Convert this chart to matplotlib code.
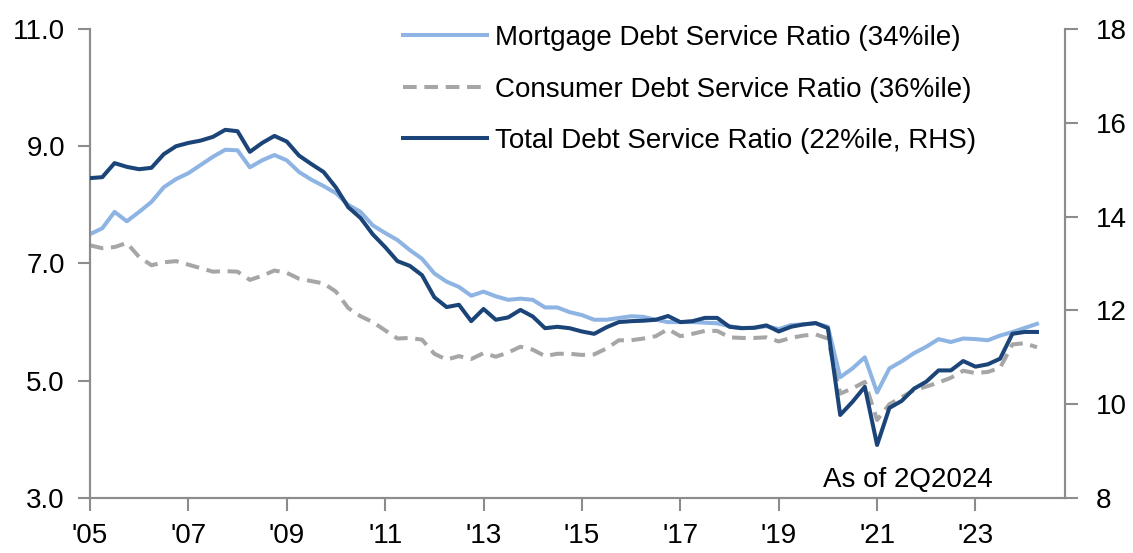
import matplotlib
matplotlib.use("Agg")
import matplotlib.pyplot as plt
import numpy as np

plt.rcParams['font.family'] = ['Liberation Sans', 'DejaVu Sans']

start_year = 2005
quarters = 78  # 2005Q1 .. 2024Q2

mortgage = [7.50, 7.60, 7.88, 7.72, 7.88, 8.05, 8.30, 8.44, 8.54, 8.68,
            8.82, 8.94, 8.93, 8.64, 8.76, 8.85, 8.76, 8.56, 8.43, 8.32,
            8.20, 8.00, 7.88, 7.65, 7.52, 7.40, 7.23, 7.08, 6.83, 6.69,
            6.60, 6.45, 6.52, 6.44, 6.38, 6.40, 6.38, 6.25, 6.25, 6.17,
            6.12, 6.04, 6.04, 6.07, 6.10, 6.09, 6.04, 6.00, 6.00, 6.00,
            5.99, 5.98, 5.93, 5.90, 5.90, 5.93, 5.88, 5.95, 5.96, 5.98,
            5.92, 5.06, 5.21, 5.40, 4.80, 5.21, 5.33, 5.47, 5.58, 5.71,
            5.66, 5.72, 5.71, 5.69, 5.77, 5.83, 5.90, 5.97]

consumer = [7.31, 7.26, 7.28, 7.35, 7.11, 6.97, 7.02, 7.04, 6.98, 6.92,
            6.86, 6.87, 6.86, 6.72, 6.79, 6.88, 6.84, 6.74, 6.70, 6.66,
            6.52, 6.24, 6.10, 6.00, 5.86, 5.72, 5.73, 5.70, 5.46, 5.36,
            5.42, 5.37, 5.47, 5.41, 5.48, 5.58, 5.53, 5.42, 5.46, 5.46,
            5.44, 5.45, 5.55, 5.69, 5.69, 5.72, 5.76, 5.88, 5.76, 5.80,
            5.85, 5.85, 5.74, 5.73, 5.73, 5.74, 5.67, 5.73, 5.77, 5.79,
            5.72, 4.78, 4.87, 4.98, 4.33, 4.60, 4.72, 4.84, 4.90, 4.97,
            5.05, 5.17, 5.13, 5.15, 5.22, 5.62, 5.64, 5.57]

total = [14.82, 14.84, 15.14, 15.06, 15.01, 15.04, 15.33, 15.50, 15.57, 15.62,
         15.70, 15.85, 15.82, 15.38, 15.57, 15.72, 15.60, 15.30, 15.12, 14.95,
         14.62, 14.20, 13.97, 13.62, 13.35, 13.05, 12.95, 12.75, 12.28, 12.07,
         12.12, 11.77, 12.03, 11.80, 11.85, 12.01, 11.87, 11.62, 11.65, 11.62,
         11.55, 11.50, 11.64, 11.75, 11.77, 11.78, 11.80, 11.88, 11.75, 11.77,
         11.84, 11.84, 11.65, 11.62, 11.63, 11.68, 11.55, 11.65, 11.70, 11.73,
         11.62, 9.77, 10.05, 10.37, 9.13, 9.92, 10.07, 10.33, 10.48, 10.72,
         10.72, 10.92, 10.80, 10.85, 10.97, 11.50, 11.54, 11.54]

tick_years = [2005, 2007, 2009, 2011, 2013, 2015, 2017, 2019, 2021, 2023]
tick_labels = ["'05", "'07", "'09", "'11", "'13", "'15", "'17", "'19", "'21", "'23"]

labels = ["Mortgage Debt Service Ratio (34%ile)",
          "Consumer Debt Service Ratio (36%ile)",
          "Total Debt Service Ratio (22%ile, RHS)"]

x = start_year + np.arange(quarters) / 4.0

c_light = '#8DB4E2'
c_gray = '#A6A6A6'
c_dark = '#1B4478'
spine_c = '#8C8C8C'

fig = plt.figure(figsize=(11.33, 5.53), dpi=100)
ax = fig.add_axes([0.0794, 0.0995, 0.8606, 0.8481])
ax2 = ax.twinx()

l1, = ax.plot(x, mortgage, color=c_light, lw=2.9, label=labels[0], zorder=3)
l2, = ax.plot(x, consumer, color=c_gray, lw=2.9, ls=(0, (3.4, 1.9)), label=labels[1], zorder=2)
l3, = ax2.plot(x, total, color=c_dark, lw=2.9, label=labels[2], zorder=4)

ax.set_xlim(2005.0, 2024.82)
ax.set_ylim(3.0, 11.0)
ax2.set_ylim(8, 18)
ax.set_yticks([3, 5, 7, 9, 11])
ax.set_yticklabels(['3.0', '5.0', '7.0', '9.0', '11.0'])
ax2.set_yticks([8, 10, 12, 14, 16, 18])
ax.set_xticks(tick_years)
ax.set_xticklabels(tick_labels)

for a in (ax, ax2):
    a.spines['top'].set_visible(False)
    for s in ('left', 'right', 'bottom'):
        a.spines[s].set_color(spine_c)
        a.spines[s].set_linewidth(1.5)
    a.tick_params(colors=spine_c, labelcolor='black', labelsize=20,
                  length=9, width=1.5, direction='out')
ax.tick_params(axis='y', pad=9)
ax2.tick_params(axis='y', pad=13)
ax.tick_params(axis='x', pad=9)

leg = ax.legend(handles=[l1, l2, l3], loc='upper left',
                bbox_to_anchor=(0.310, 1.032), frameon=False, fontsize=20,
                handlelength=3.0, handletextpad=0.3, labelspacing=0.92,
                borderaxespad=0)

ax.text(2021.63, 3.19, 'As of 2Q2024', fontsize=20, ha='center', va='baseline')

fig.savefig('out.png', dpi=100)
